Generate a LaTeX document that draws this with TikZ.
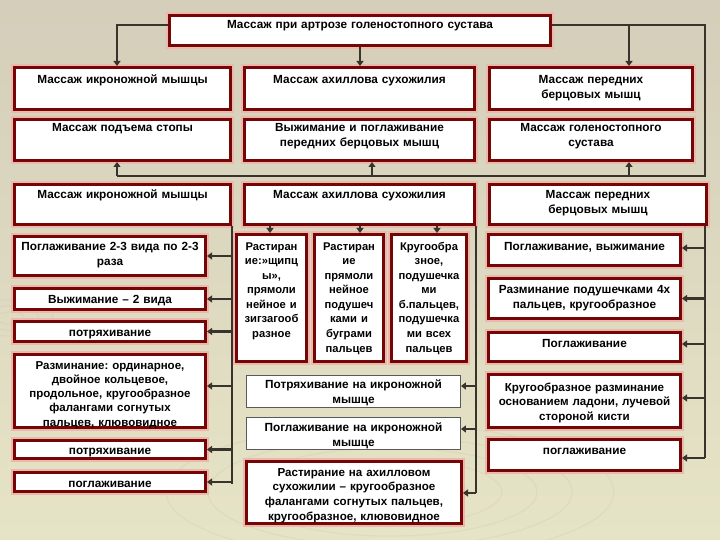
\documentclass[tikz,border=0pt]{standalone}
\usepackage{fontspec}
\setmainfont{Liberation Sans}
\usetikzlibrary{arrows.meta}
\frenchspacing
\definecolor{bgtop}{RGB}{212,206,186}
\definecolor{bgbot}{RGB}{230,228,198}
\definecolor{bred}{RGB}{118,6,6}
\definecolor{glow}{RGB}{236,184,174}
\definecolor{lnc}{RGB}{56,52,44}
\definecolor{swirl}{RGB}{200,196,170}
\tikzset{
  rbox/.style={draw=bred, line width=3pt, fill=white, preaction={draw=glow, line width=6.5pt}, inner sep=0pt},
  tbox/.style={draw=black!65, line width=0.9pt, fill=white, inner sep=0pt},
  txt/.style={font=\bfseries\fontsize{11.8}{15}\selectfont, align=center, inner sep=0pt, anchor=base},
  ln/.style={draw=lnc, line width=2.6pt},
  conn/.style={ln, -{Triangle[width=7pt,length=5pt]}},
}
% [style]{name}{x1}{y1}{x2}{y2}{first baseline y}{text}
\newcommand\bx[8][rbox]{%
  \pgfmathsetmacro\bxw{#5-#3-3}\pgfmathsetmacro\bxh{#6-#4-3}\pgfmathsetmacro\bxt{#5-#3-2}%
  \node[#1, minimum width=\bxw pt, minimum height=\bxh pt] (#2) at ({(#3+#5)/2},{(#4+#6)/2}) {};
  \node[txt, text width=\bxt pt] (#2t) at ({(#3+#5)/2},#7) {#8};
}
\begin{document}
\begin{tikzpicture}[x=1pt,y=-1pt]
\useasboundingbox (0,0) rectangle (720,540);
\shade[top color=bgtop, bottom color=bgbot] (0,0) rectangle (720,540);
% faint background swirls
\foreach \r in {30,55,80,105,130,160}{
  \draw[swirl, opacity=0.25, line width=1.2pt] (390,492) ellipse ({\r*1.4} and {\r*0.42});
}
\foreach \r in {12,24,36}{
  \draw[swirl, opacity=0.25, line width=1.2pt] (10,318) ellipse ({\r*1.2} and {\r*0.5});
}

% ---- top ----
\bx{top}{168}{14}{552}{47}{29}{Массаж при артрозе голеностопного сустава}
% ---- row 1 ----
\bx{ra}{13}{66}{232}{111}{84}{Массаж икроножной мышцы}
\bx{rb}{243}{66}{476}{111}{84}{Массаж ахиллова сухожилия}
\bx{rc}{488}{66}{694}{111}{84}{Массаж передних\\берцовых мышц}
% ---- row 2 ----
\bx{sa}{13}{118}{232}{162}{132}{Массаж подъема стопы}
\bx{sb}{243}{118}{476}{162}{132}{Выжимание и поглаживание\\передних берцовых мышц}
\bx{sc}{488}{118}{694}{162}{132}{Массаж голеностопного\\сустава}
% ---- row 3 ----
\bx{ua}{13}{183}{232}{226}{199}{Массаж икроножной мышцы}
\bx{ub}{243}{183}{476}{226}{199}{Массаж ахиллова сухожилия}
\bx{uc}{488}{183}{708}{226}{199}{Массаж передних\\берцовых мышц}
% ---- left list ----
\bx{la}{13}{235}{207}{277}{250}{Поглаживание 2-3 вида по 2-3\\раза}
\bx{lb}{13}{287}{207}{311}{303}{Выжимание – 2 вида}
\bx{lc}{13}{320}{207}{343}{336}{потряхивание}
\bx{ld}{13}{353}{207}{429}{369}{\fontsize{11.5}{14.2}\selectfont Разминание: ординарное,\\двойное кольцевое,\\продольное, кругообразное\\фалангами согнутых\\пальцев, клювовидное}
\bx{le}{13}{439}{207}{460}{454}{потряхивание}
\bx{lf}{13}{471}{207}{493}{487}{поглаживание}
% ---- middle narrow ----
\bx{ma}{235}{233}{308}{363}{250}{\fontsize{11.2}{14.6}\selectfont Растиран\\ие:»щипц\\ы»,\\прямоли\\нейное и\\зигзагооб\\разное}
\bx{mb}{313}{233}{385}{363}{250}{\fontsize{11.2}{14.6}\selectfont Растиран\\ие\\прямоли\\нейное\\подушеч\\ками и\\буграми\\пальцев}
\bx{mc}{390}{233}{468}{363}{250}{\fontsize{11.2}{14.6}\selectfont Кругообра\\зное,\\подушечка\\ми\\б.пальцев,\\подушечка\\ми всех\\пальцев}
% ---- middle lower ----
\bx[tbox]{na}{245}{374}{462}{409}{388}{Потряхивание на икроножной\\мышце}
\bx[tbox]{nb}{245}{416}{462}{451}{431}{Поглаживание на икроножной\\мышце}
\bx{nc}{245}{460}{463}{525}{476}{\fontsize{11.6}{14.5}\selectfont Растирание на ахилловом\\сухожилии – кругообразное\\фалангами согнутых пальцев,\\кругообразное, клювовидное}
% ---- right list ----
\bx{qa}{487}{233}{682}{267}{250}{Поглаживание, выжимание}
\bx{qb}{487}{277}{682}{320}{293}{Разминание подушечками 4х\\пальцев, кругообразное}
\bx{qc}{487}{331}{682}{363}{347}{Поглаживание}
\bx{qd}{487}{373}{682}{429}{391}{\fontsize{11.6}{14}\selectfont Кругообразное разминание\\основанием ладони, лучевой\\стороной кисти}
\bx{qe}{487}{438}{682}{472}{454}{поглаживание}

% ---- connectors: top ----
\coordinate (jL) at (117,25);
\coordinate (jR) at (705,25);
\coordinate (jRc) at (629,25);
\coordinate (jB) at (705,176);
\coordinate (b1) at (117,176);
\coordinate (b2) at (372,176);
\coordinate (b3) at (629,176);
\draw[conn] (top.west |- jL) -- (jL) -- (jL |- ra.north);
\draw[conn] (top.south) -- (top.south |- rb.north);
\draw[ln] (top.east |- jR) -- (jR) -- (jB) -- (b1);
\draw[conn] (jRc) -- (jRc |- rc.north);
\draw[conn] (b1) -- (b1 |- sa.south);
\draw[conn] (b2) -- (b2 |- sb.south);
\draw[conn] (b3) -- (b3 |- sc.south);

% ---- left column ----
\coordinate (vLt) at (232,226);
\coordinate (vLb) at (232,484);
\draw[ln] (vLt) -- (vLb);
\foreach \n in {la,lb,lc,le,lf}{ \draw[conn] (vLt |- \n.east) -- (\n.east); }
\draw[conn] (vLt |- 0,386) -- (ld.east |- 0,386);

% ---- middle column ----
\coordinate (d1) at (270,226);
\coordinate (d2) at (360,226);
\coordinate (d3) at (437,226);
\draw[conn] (d1) -- (d1 |- ma.north);
\draw[conn] (d2) -- (d2 |- mb.north);
\draw[conn] (d3) -- (d3 |- mc.north);
\coordinate (vMt) at (476,226);
\coordinate (vMb) at (476,493);
\draw[ln] (vMt) -- (vMb);
\draw[conn] (vMt |- 0,386) -- (na.east |- 0,386);
\draw[conn] (vMt |- 0,429) -- (nb.east |- 0,429);
\draw[conn] (vMb) -- (nc.east |- vMb);

% ---- right column ----
\coordinate (vRt) at (705,226);
\coordinate (vRb) at (705,458);
\draw[ln] (vRt) -- (vRb);
\draw[conn] (vRt |- 0,248) -- (qa.east |- 0,248);
\draw[conn] (vRt |- qb.east) -- (qb.east);
\draw[conn] (vRt |- 0,344) -- (qc.east |- 0,344);
\draw[conn] (vRt |- 0,398) -- (qd.east |- 0,398);
\draw[conn] (vRb) -- (qe.east |- vRb);
\end{tikzpicture}
\end{document}
